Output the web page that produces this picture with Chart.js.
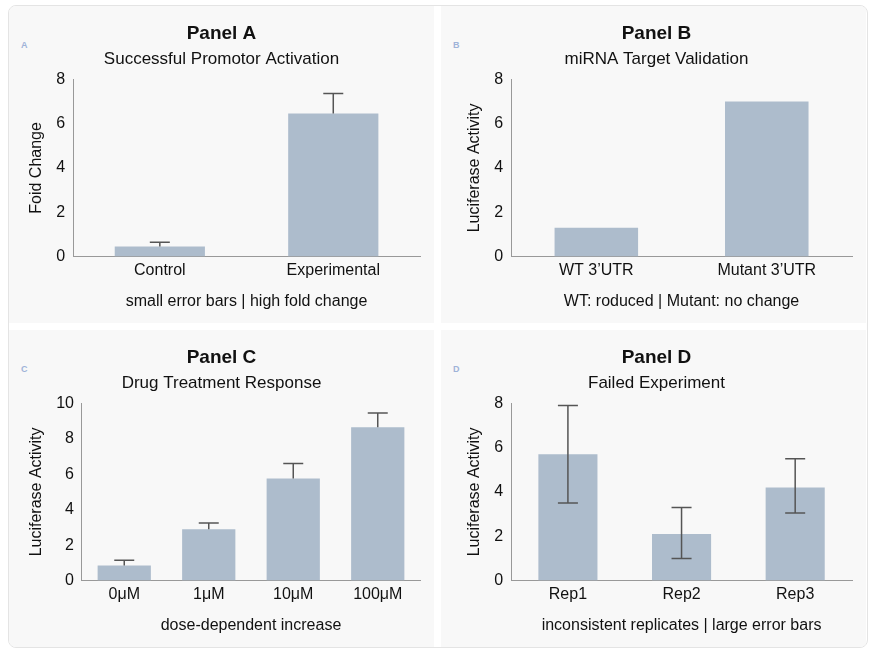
<!DOCTYPE html>
<html>
<head>
<meta charset="utf-8">
<script src="https://cdn.jsdelivr.net/npm/chart.js@4/dist/chart.umd.min.js"></script>
<style>
  body { margin: 0; background: #fff; font-family: "Liberation Sans", Arial, sans-serif; }
  #card { position: absolute; left: 8px; top: 5px; width: 858px; height: 641px; border: 1px solid #e4e4e4; border-radius: 8px; overflow: hidden; background: #fff; }
  .panel { position: absolute; width: 425px; height: 317px; background: #f8f8f8; }
  .tag { position: absolute; left: 12px; top: 34px; font-size: 9px; color: #9fb3d8; font-weight: bold; }
  canvas { position: absolute; left: 0; top: 0; }
</style>
</head>
<body>
<div id="card">
  <div class="panel" style="left:0;top:0"><div class="tag">A</div><canvas id="cA"></canvas></div>
  <div class="panel" style="left:432px;top:0"><div class="tag">B</div><canvas id="cB"></canvas></div>
  <div class="panel" style="left:0;top:324px"><div class="tag">C</div><canvas id="cC"></canvas></div>
  <div class="panel" style="left:432px;top:324px"><div class="tag">D</div><canvas id="cD"></canvas></div>
</div>
<script>
// Panel A
const labelsA = ["Control", "Experimental"];
const valuesA = [0.45, 6.45];
const errLowA = [0.45, 6.45];
const errHighA = [0.65, 7.35];

// Panel B
const labelsB = ["WT 3\u2019UTR", "Mutant 3\u2019UTR"];
const valuesB = [1.3, 7.0];

// Panel C
const labelsC = ["0\u03bcM", "1\u03bcM", "10\u03bcM", "100\u03bcM"];
const valuesC = [0.85, 2.9, 5.75, 8.65];
const errLowC = [0.85, 2.9, 5.75, 8.65];
const errHighC = [1.15, 3.25, 6.6, 9.45];

// Panel D
const labelsD = ["Rep1", "Rep2", "Rep3"];
const valuesD = [5.7, 2.1, 4.2];
const errLowD = [3.5, 1.0, 3.05];
const errHighD = [7.9, 3.3, 5.5];

const barColor = "#adbccc";
const font = "'Liberation Sans', Arial, sans-serif";

const errorBars = {
    id: 'errorBars',
    afterDatasetsDraw(chart, args, opts) {
        if (!opts.low) return;
        const ctx = chart.ctx;
        const meta = chart.getDatasetMeta(0);
        const y = chart.scales.y;
        ctx.save();
        ctx.strokeStyle = "#555";
        ctx.lineWidth = 1.5;
        meta.data.forEach((bar, i) => {
            const x = bar.x;
            const top = y.getPixelForValue(opts.high[i]);
            const bot = y.getPixelForValue(opts.low[i]);
            ctx.beginPath();
            ctx.moveTo(x, bot); ctx.lineTo(x, top);
            ctx.moveTo(x - 10, top); ctx.lineTo(x + 10, top);
            if (opts.low[i] < chart.data.datasets[0].data[i]) {
                ctx.moveTo(x - 10, bot); ctx.lineTo(x + 10, bot);
            }
            ctx.stroke();
        });
        ctx.restore();
    }
};

function buildPanel(id, opts) {
    const canvas = document.getElementById(id);
    canvas.width = 425; canvas.height = 317;
    new Chart(canvas, {
        type: 'bar',
        data: {
            labels: opts.labels,
            datasets: [{ data: opts.values, backgroundColor: barColor, barPercentage: opts.bp, categoryPercentage: 1 }]
        },
        options: {
            responsive: false,
            animation: false,
            layout: { padding: { left: opts.padLeft, right: 14, top: 16, bottom: 8 } },
            plugins: {
                legend: { display: false },
                tooltip: { enabled: false },
                title: { display: true, text: opts.title, color: "#111", font: { family: font, size: 19, weight: 'bold' }, padding: { top: 0, bottom: 4 } },
                subtitle: { display: true, text: opts.subtitle, color: "#111", font: { family: font, size: 17 }, padding: { bottom: 10 } },
                errorBars: { low: opts.low, high: opts.high }
            },
            scales: {
                x: {
                    grid: { display: false, drawTicks: false },
                    border: { color: "#999" },
                    ticks: { color: "#111", font: { family: font, size: 16 }, padding: 4 },
                    title: { display: true, text: opts.footer, color: "#111", font: { family: font, size: 16 }, padding: { top: 8 } }
                },
                y: {
                    min: 0, max: opts.max,
                    grid: { display: false, drawTicks: false },
                    border: { color: "#999" },
                    ticks: { stepSize: 2, color: "#111", font: { family: font, size: 16 }, padding: 8 },
                    title: { display: true, text: opts.ytitle, color: "#111", font: { family: font, size: 16 }, padding: { bottom: 2 } }
                }
            }
        },
        plugins: [errorBars]
    });
}

buildPanel('cA', { labels: labelsA, values: valuesA, low: errLowA, high: errHighA, bp: 0.52, max: 8, padLeft: 14,
    title: "Panel A", subtitle: "Successful Promotor Activation", ytitle: "Foid Change", footer: "small error bars | high fold change" });
buildPanel('cB', { labels: labelsB, values: valuesB, bp: 0.49, max: 8, padLeft: 20,
    title: "Panel B", subtitle: "miRNA Target Validation", ytitle: "Luciferase Activity", footer: "WT: roduced | Mutant: no change" });
buildPanel('cC', { labels: labelsC, values: valuesC, low: errLowC, high: errHighC, bp: 0.63, max: 10, padLeft: 14,
    title: "Panel C", subtitle: "Drug Treatment Response", ytitle: "Luciferase Activity", footer: "dose-dependent increase" });
buildPanel('cD', { labels: labelsD, values: valuesD, low: errLowD, high: errHighD, bp: 0.52, max: 8, padLeft: 20,
    title: "Panel D", subtitle: "Failed Experiment", ytitle: "Luciferase Activity", footer: "inconsistent replicates | large error bars" });
</script>
</body>
</html>
